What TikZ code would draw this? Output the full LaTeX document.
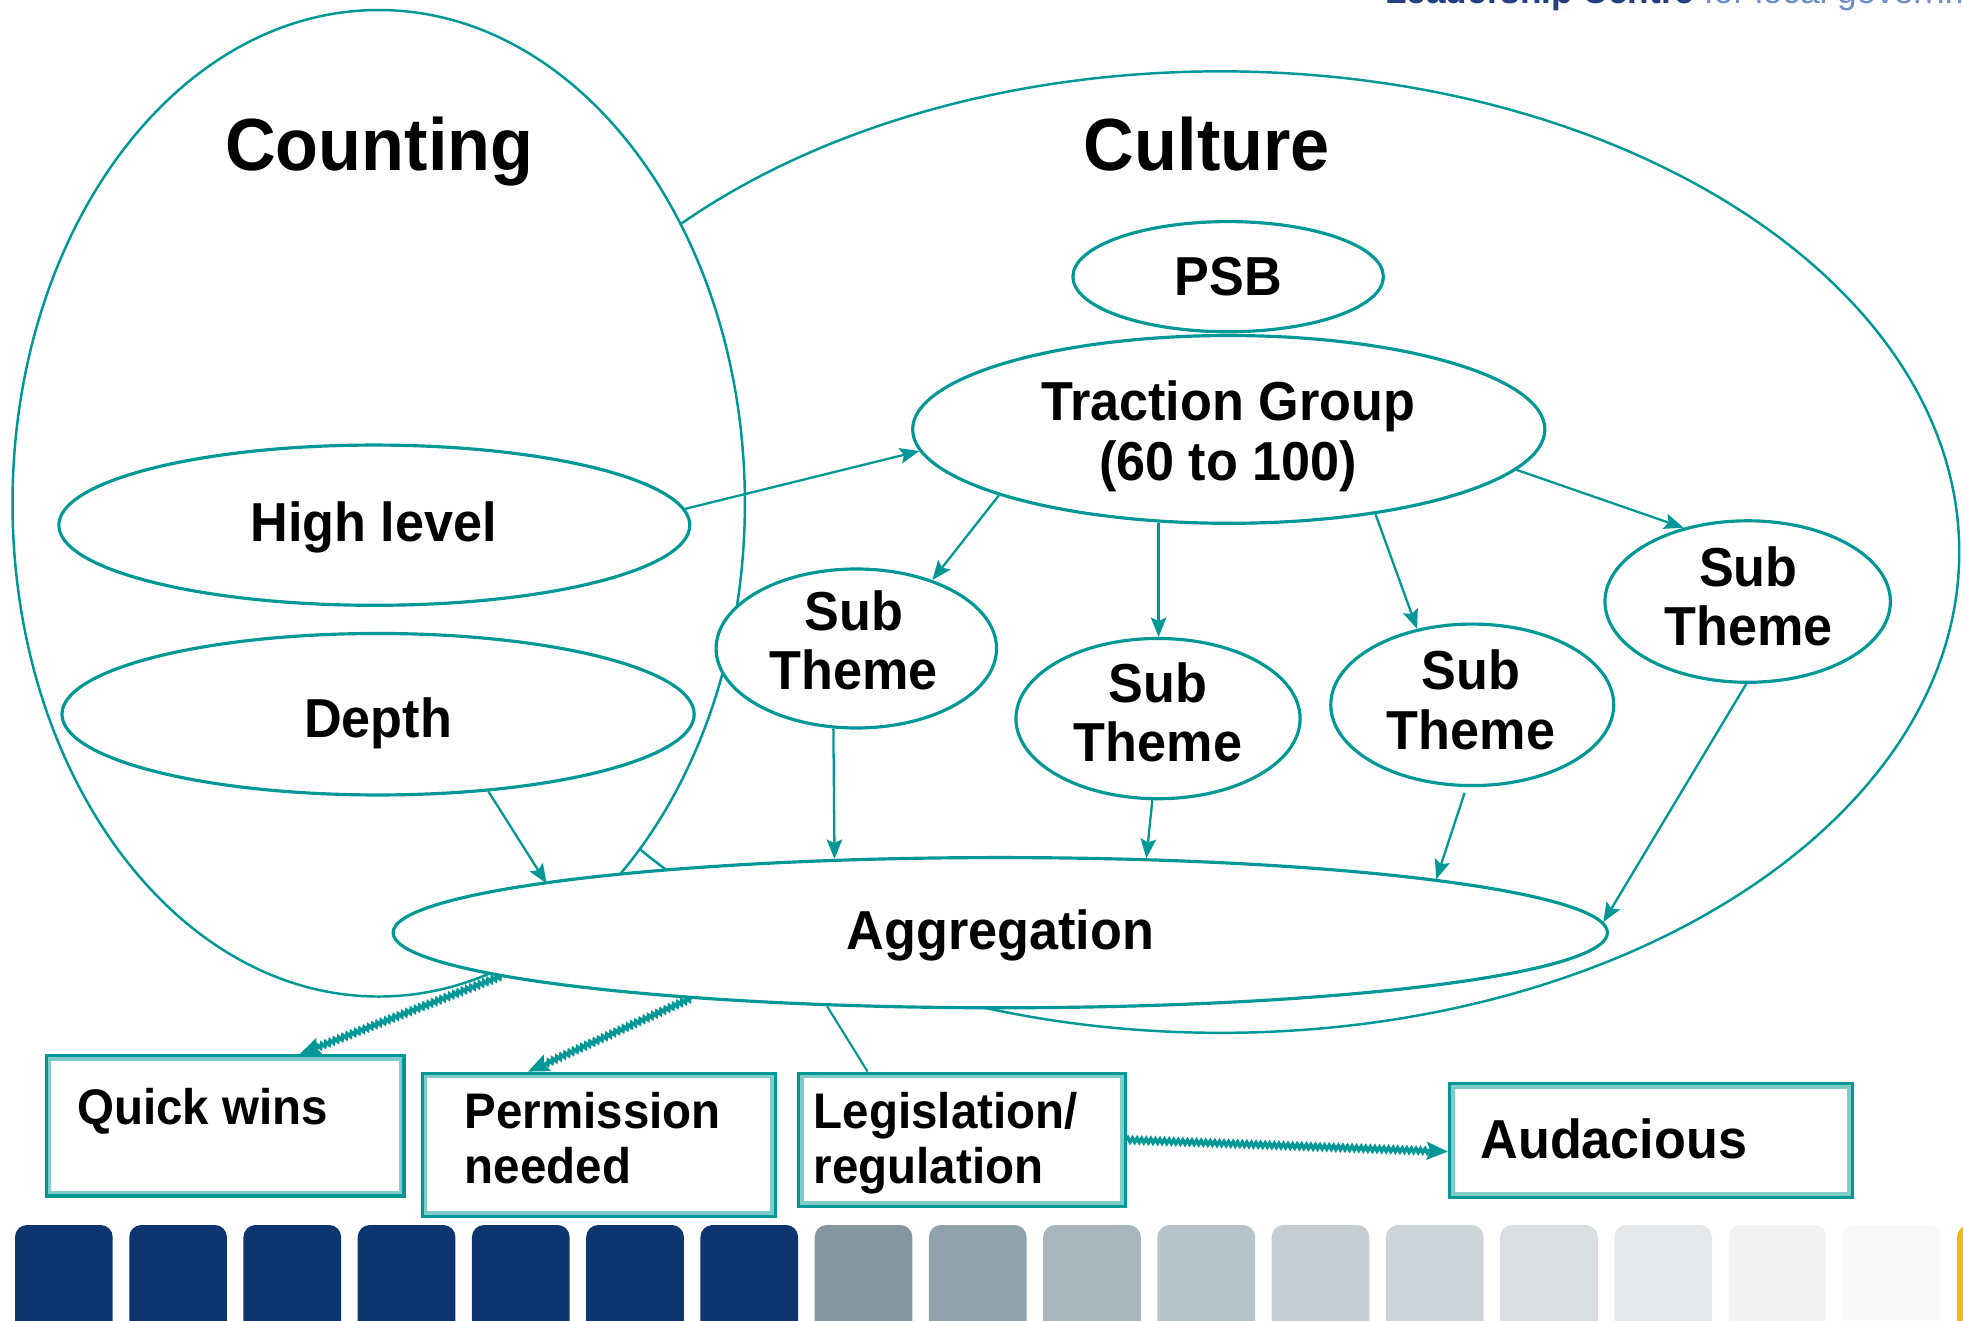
\documentclass[tikz,border=0pt]{standalone}
\usepackage{fontspec}
\setmainfont{Liberation Sans}
\newfontfamily\dfont[FakeStretch=0.95]{Liberation Sans}
\usetikzlibrary{shapes.geometric,arrows.meta,decorations.pathmorphing}

\definecolor{teal0}{RGB}{0,152,150}
\definecolor{tealL}{RGB}{128,204,202}
\definecolor{navy}{RGB}{13,53,112}
\definecolor{hdrA}{RGB}{35,60,130}
\definecolor{hdrB}{RGB}{110,140,200}
\definecolor{g1}{RGB}{132,151,161}
\definecolor{g2}{RGB}{143,161,171}
\definecolor{g3}{RGB}{168,182,190}
\definecolor{g4}{RGB}{181,195,202}
\definecolor{g5}{RGB}{195,205,211}
\definecolor{g6}{RGB}{205,213,219}
\definecolor{g7}{RGB}{216,222,226}
\definecolor{g8}{RGB}{228,232,235}
\definecolor{g9}{RGB}{240,242,244}
\definecolor{g10}{RGB}{248,249,250}
\definecolor{yel}{RGB}{245,185,20}
\def\U{0.125mm}

\begin{document}
\begin{tikzpicture}[x=0.125mm,y=-0.125mm,
  sz/.style 2 args={minimum width=#1*\U,minimum height=#2*\U},
  zone/.style={ellipse,draw=teal0,line width=0.7pt,fill=white,inner sep=0pt},
  oval/.style={ellipse,draw=teal0,line width=0.9pt,fill=white,inner sep=0pt},
  ttl/.style={font=\dfont\bfseries\fontsize{21}{24}\selectfont,anchor=north,inner sep=0pt},
  lbl/.style={font=\dfont\bfseries\fontsize{15.6}{17}\selectfont,anchor=north,inner sep=0pt,align=center},
  btxt/.style={font=\dfont\bfseries\fontsize{14.2}{15.6}\selectfont,anchor=north west,inner sep=0pt,align=left},
  boxn/.style={rectangle,draw=teal0,line width=0.9pt,fill=white,inner sep=0pt,
    path picture={\draw[tealL,line width=3pt] (path picture bounding box.south west) rectangle (path picture bounding box.north east);}},
  arr/.style={draw=teal0,line width=0.65pt,-{Stealth[length=5.5pt,width=4.4pt,inset=1pt]}},
  jag/.style={draw=teal0,line width=1pt,decorate,
    decoration={zigzag,segment length=1.3pt,amplitude=0.55pt,post length=5pt},
    -{Stealth[length=6pt,width=5pt,inset=1pt]}}
]
\useasboundingbox (0,0) rectangle (1568,1055);

% large zones
\node[zone,sz={1180}{768}] (cul) at (975,441) {};
\node[zone,sz={585}{788}] (cnt) at (302.5,402) {};
\node[ttl] (cntT) at (303,93) {Counting};
\node[ttl] (culT) at (964,93) {Culture};

% ellipses
\node[oval,sz={248}{88}] (psb) at (981,221) {};
\node[lbl] (psbT) at (981,205) {PSB};
\node[oval,sz={505}{150}] (tg) at (981.5,343) {};
\node[lbl] (tgT) at (981,303.5) {Traction Group\\(60 to 100)};
\node[oval,sz={504}{128}] (hl) at (299,419.5) {};
\node[lbl] (hlT) at (298.5,400.4) {High level};
\node[oval,sz={505}{129}] (dp) at (302,570.5) {};
\node[lbl] (dpT) at (302,557) {Depth};
\node[oval,sz={224}{127}] (s1) at (684,518) {};
\node[lbl] (s1T) at (682,471) {Sub\\Theme};
\node[oval,sz={227}{128}] (s2) at (925,574) {};
\node[lbl] (s2T) at (925,528.5) {Sub\\Theme};
\node[oval,sz={226}{129}] (s3) at (1176,563) {};
\node[lbl] (s3T) at (1175,518.4) {Sub\\Theme};
\node[oval,sz={228}{129}] (s4) at (1396,480.5) {};
\node[lbl] (s4T) at (1396.6,435.8) {Sub\\Theme};
\node[oval,sz={970}{120}] (ag) at (799,745) {};
\node[lbl] (agT) at (799,726) {Aggregation};

% connectors
\draw[arr] (hl.3) -- (tg.184);
\draw[arr] (tg.196) -- (s1.42);
\draw[arr] (tg.233) -- (tg.233 |- s2.north);
\draw[arr] (tg.330) -- (s3.126);
\draw[arr] (tg.352) -- (s4.131);
\draw[arr] (dp.325) -- ([xshift=11*\U]ag.174);
\draw[arr] (s1.254) -- (ag.156);
\draw[arr] (s2.266) -- (ag.27);
\draw[arr,shorten <=0.6mm] (s3.266) -- (ag.7);
\draw[arr] (s4.269) -- (ag.1);

% boxes
\node[boxn,sz={285.9}{112.1}] (qw) at (179.8,899.3) {};
\node[btxt] (qwT) at (61,869) {Quick wins};
\node[boxn,sz={282}{114.5}] (pn) at (478.25,914.5) {};
\node[btxt] (pnT) at (370.8,872) {Permission\\needed};
\node[boxn,sz={260.7}{106.5}] (lg) at (768.4,910.5) {};
\node[btxt] (lgT) at (649.5,872) {Legislation/\\regulation};
\node[boxn,sz={321.9}{91.2}] (au) at (1318.8,910.85) {};
\node[btxt,font=\dfont\bfseries\fontsize{15.6}{17}\selectfont] (auT) at (1182,893) {Audacious};

\draw[jag] (ag.185) -- ([xshift=59.6*\U]qw.north);
\draw[jag] (ag.192) -- ([xshift=-56.5*\U]pn.north);
\draw[teal0,line width=0.6pt] (ag.203) -- ([xshift=-75.4*\U]lg.north);
\draw[jag] (lg.east) -- ([yshift=-9*\U]au.west);

% bottom strip
\foreach \i/\c in {0/navy,1/navy,2/navy,3/navy,4/navy,5/navy,6/navy,7/g1,8/g2,9/g3,10/g4,11/g5,12/g6,13/g7,14/g8,15/g9,16/g10,17/yel}
  \fill[\c,rounded corners=1.2mm] (12+91.25*\i,978.5) rectangle ++(78,130);

% header (cut off at top, as in the reference)
\node[anchor=base west,inner sep=0pt,font=\fontsize{10}{12}\selectfont] (hdr) at (1106,2.7)
  {\textcolor{hdrA}{\bfseries Leadership Centre} \textcolor{hdrB}{for local government}};
\end{tikzpicture}
\end{document}
